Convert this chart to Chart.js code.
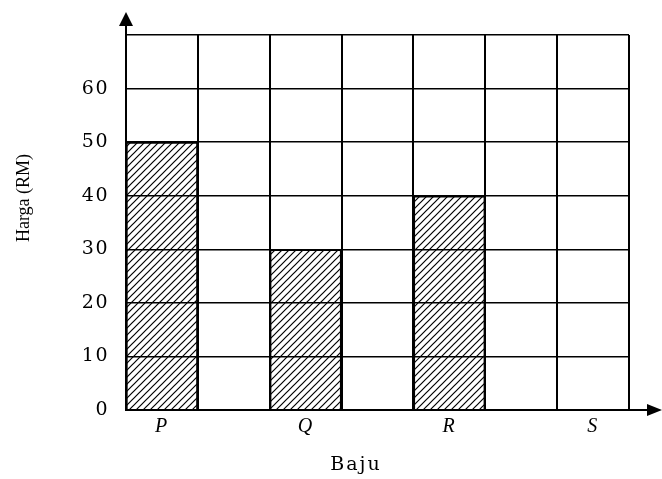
<!DOCTYPE html>
<html>
<head>
<meta charset="utf-8">
<script src="https://cdn.jsdelivr.net/npm/chart.js@4.4.0/dist/chart.umd.min.js"></script>
<style>
  html, body { margin: 0; padding: 0; background: #fff; }
  #wrap { width: 662px; height: 479px; position: relative; }
</style>
</head>
<body>
<div id="wrap"><canvas id="barChart"></canvas></div>
<script>
// columns of the grid; only P, Q, R, S are labelled
const labels = ["P", "", "Q", "", "R", "", "S"];
// price (RM) of each shirt, S left blank in the picture
const prices = [50, null, 30, null, 40, null, null];
const yTicks = [0, 10, 20, 30, 40, 50, 60];
const xTitle = "Baju";
const yTitle = "Harga (RM)";

const serif = "'Liberation Serif', 'DejaVu Serif', serif";
const wideSerif = "'DejaVu Serif', serif";

function hatch() {
  const c = document.createElement("canvas");
  c.width = 7;
  c.height = 7;
  const g = c.getContext("2d");
  g.fillStyle = "#fff";
  g.fillRect(0, 0, 7, 7);
  g.strokeStyle = "#000";
  g.lineWidth = 1.2;
  g.beginPath();
  g.moveTo(0, 7); g.lineTo(7, 0);
  g.moveTo(-3.5, 3.5); g.lineTo(3.5, -3.5);
  g.moveTo(3.5, 10.5); g.lineTo(10.5, 3.5);
  g.stroke();
  return g.createPattern(c, "repeat");
}

// arrow heads on both axes and the two axis titles
const decor = {
  id: "decor",
  beforeDraw(chart) {
    chart.ctx.letterSpacing = "1.5px";
  },
  afterDraw(chart) {
    const { ctx, chartArea } = chart;
    const l = chartArea.left, b = chartArea.bottom, t = chartArea.top, r = chartArea.right;
    ctx.save();
    ctx.strokeStyle = "#000";
    ctx.fillStyle = "#000";
    ctx.lineWidth = 2;
    ctx.beginPath();
    ctx.moveTo(l, t); ctx.lineTo(l, t - 12);
    ctx.moveTo(r, b); ctx.lineTo(r + 20, b);
    ctx.stroke();
    ctx.beginPath();
    ctx.moveTo(l, t - 23); ctx.lineTo(l - 7, t - 9); ctx.lineTo(l + 7, t - 9);
    ctx.closePath();
    ctx.fill();
    ctx.beginPath();
    ctx.moveTo(r + 33, b); ctx.lineTo(r + 18, b - 6); ctx.lineTo(r + 18, b + 6);
    ctx.closePath();
    ctx.fill();

    ctx.textAlign = "center";
    ctx.textBaseline = "middle";
    ctx.letterSpacing = "2px";
    ctx.font = "19px " + wideSerif;
    ctx.fillText(xTitle, l + 230, b + 55);

    ctx.letterSpacing = "0px";
    ctx.font = "18px " + serif;
    ctx.translate(l - 102, t + 163);
    ctx.rotate(-Math.PI / 2);
    ctx.fillText(yTitle, 0, 0);
    ctx.restore();
  }
};

new Chart(document.getElementById("barChart"), {
  type: "bar",
  data: {
    labels: labels,
    datasets: [{
      data: prices,
      backgroundColor: hatch(),
      borderColor: "#000",
      borderWidth: 2,
      barPercentage: 1,
      categoryPercentage: 1,
    }],
  },
  options: {
    responsive: true,
    maintainAspectRatio: false,
    animation: false,
    layout: { padding: { top: 35, right: 33 } },
    plugins: {
      legend: { display: false },
      tooltip: { enabled: false },
    },
    scales: {
      x: {
        afterFit(scale) { scale.height = 69; },
        grid: { color: "#000", lineWidth: 2, drawTicks: false, z: 1 },
        border: { color: "#000", width: 2, z: 1 },
        ticks: {
          color: "#000",
          padding: 5,
          font: { family: serif, size: 20, style: "italic" },
        },
      },
      y: {
        min: 0,
        max: 70,
        afterFit(scale) { scale.width = 126; },
        afterBuildTicks(scale) {
          scale.ticks = yTicks.concat([70]).map(v => ({ value: v }));
        },
        grid: { color: "#000", lineWidth: 1.5, drawTicks: false, z: 1 },
        border: { color: "#000", width: 2, z: 1 },
        ticks: {
          color: "#000",
          padding: 17,
          font: { family: wideSerif, size: 19 },
          callback: v => (yTicks.includes(v) ? v : ""),
        },
      },
    },
  },
  plugins: [decor],
});
</script>
</body>
</html>
